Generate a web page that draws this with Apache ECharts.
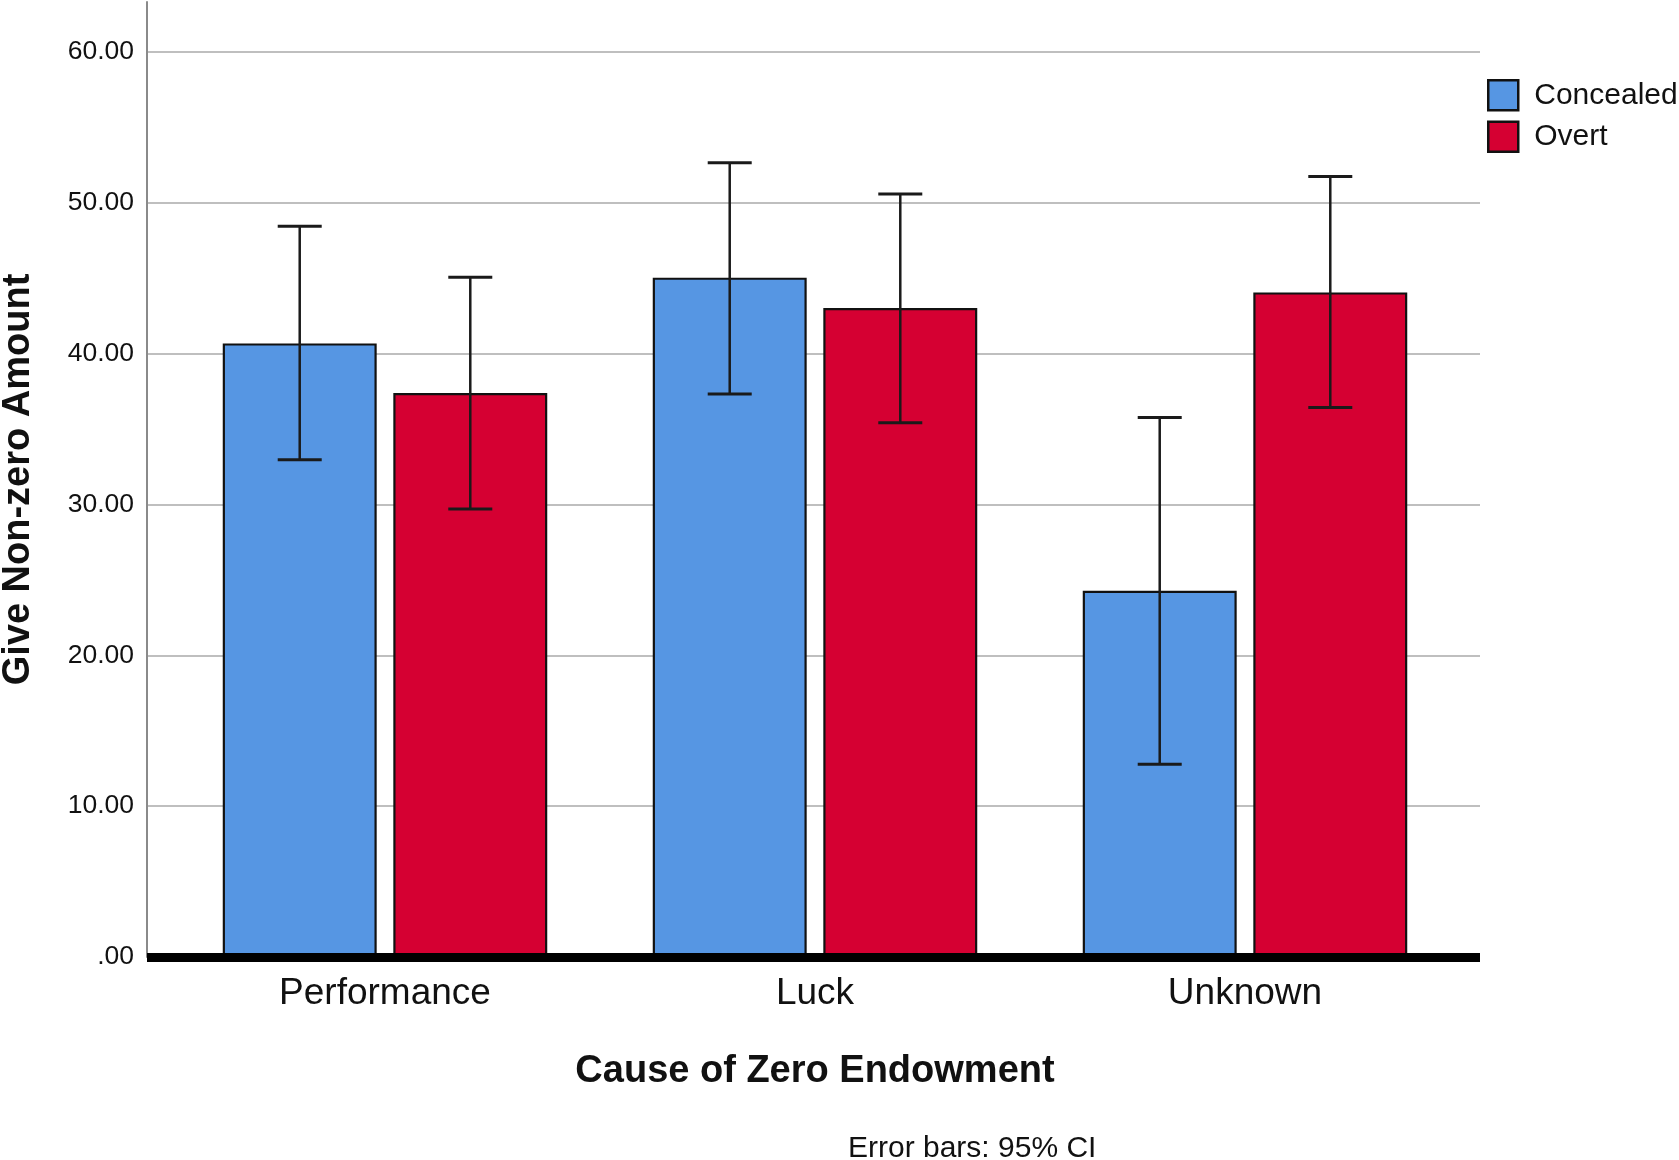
<!DOCTYPE html>
<html>
<head>
<meta charset="utf-8">
<script src="https://cdn.jsdelivr.net/npm/echarts@6/dist/echarts.min.js"></script>
<style>
html,body{margin:0;padding:0;background:#fff;}
#chart{width:1679px;height:1160px;}
</style>
</head>
<body>
<div id="chart"></div>
<script>
// ---- data ----
const categories = ['Performance', 'Luck', 'Unknown'];
const seriesNames = ['Concealed', 'Overt'];
const concealedMean = [40.67, 45.03, 24.27];
const overtMean = [37.38, 43.02, 44.05];
const concealedLow = [32.96, 37.31, 12.78];
const concealedHigh = [48.43, 52.65, 35.76];
const overtLow = [29.69, 35.41, 36.43];
const overtHigh = [45.05, 50.57, 51.74];
const yTicks = [0, 10, 20, 30, 40, 50, 60];

const FONT = '"Liberation Sans", Arial, sans-serif';
const BAR_PCT = 0.358;   // bar width as fraction of band
const GAP_PCT = 0.108;   // gap as fraction of bar width
const colors = ['#5696E3', '#D50032'];
const Y_MAX = 63.3;

function errorSeries(idx, low, high) {
  return {
    type: 'custom',
    name: seriesNames[idx] + ' CI',
    xAxisIndex: 1,
    yAxisIndex: 1,
    z: 5,
    silent: true,
    data: categories.map((c, i) => [i, low[i], high[i]]),
    renderItem: function (params, api) {
      const cat = api.value(0);
      const band = api.size([1, 0])[0];
      const bw = band * BAR_PCT;
      const gap = bw * GAP_PCT;
      const off = (bw + gap) / 2 * (idx === 0 ? -1 : 1);
      const pLow = api.coord([cat, api.value(1)]);
      const pHigh = api.coord([cat, api.value(2)]);
      const x = pLow[0] + off;
      const half = 22;
      const st = { stroke: '#1a1a1a', lineWidth: 2.5 };
      return {
        type: 'group',
        children: [
          { type: 'line', shape: { x1: x, y1: pLow[1], x2: x, y2: pHigh[1] }, style: st },
          { type: 'line', shape: { x1: x - half, y1: pLow[1], x2: x + half, y2: pLow[1] }, style: { stroke: '#1a1a1a', lineWidth: 3 } },
          { type: 'line', shape: { x1: x - half, y1: pHigh[1], x2: x + half, y2: pHigh[1] }, style: { stroke: '#1a1a1a', lineWidth: 3 } }
        ]
      };
    }
  };
}

const chart = echarts.init(document.getElementById('chart'), null, { renderer: 'canvas' });
chart.setOption({
  animation: false,
  backgroundColor: '#fff',
  textStyle: { fontFamily: FONT },
  grid: [
    { left: 147, right: 199, top: 2, bottom: 203, containLabel: false, outerBoundsMode: 'none' },
    { left: 170, right: 219, top: 2, bottom: 203, containLabel: false, outerBoundsMode: 'none' }
  ],
  legend: {
    orient: 'vertical',
    left: 1482,
    top: 74,
    itemWidth: 30,
    itemHeight: 30,
    itemGap: 9,
    icon: 'rect',
    data: seriesNames,
    itemStyle: { borderColor: '#111', borderWidth: 2.5 },
    textStyle: { fontSize: 30, color: '#111', fontFamily: FONT, padding: [0, 0, 0, 11] }
  },
  xAxis: [
    {
      gridIndex: 0, type: 'value', min: 0, max: 1, z: 10,
      axisLine: { show: true, onZero: false, lineStyle: { color: '#000', width: 9, cap: 'butt' } },
      axisTick: { show: false }, axisLabel: { show: false }, splitLine: { show: false }
    },
    {
      gridIndex: 1, type: 'category', data: categories,
      name: 'Cause of Zero Endowment', nameLocation: 'middle', nameGap: 96,
      nameTextStyle: { fontSize: 38, fontWeight: 'bold', color: '#111', fontFamily: FONT },
      axisLine: { show: false }, axisTick: { show: false },
      axisLabel: { fontSize: 37, color: '#111', margin: 18, fontFamily: FONT }
    }
  ],
  yAxis: [
    {
      gridIndex: 0, type: 'value', min: 0, max: Y_MAX, interval: 10,
      name: 'Give Non-zero Amount', nameLocation: 'middle', nameGap: 109, nameRotate: 90,
      nameTextStyle: { fontSize: 38, fontWeight: 'bold', color: '#111', fontFamily: FONT },
      axisLine: { show: true, lineStyle: { color: '#8a8a8a', width: 2 } },
      axisTick: { show: false },
      axisLabel: {
        fontSize: 26.5, color: '#111', margin: 13, showMaxLabel: false, fontFamily: FONT,
        padding: [6, 0, 0, 0],
        formatter: function (v) { return yTicks.indexOf(v) < 0 ? '' : (v === 0 ? '.00' : v.toFixed(2)); }
      },
      splitLine: { show: true, showMinLine: false, showMaxLine: false, lineStyle: { color: '#bfbfbf', width: 2 } }
    },
    {
      gridIndex: 1, type: 'value', min: 0, max: Y_MAX, interval: 10, show: false,
      splitLine: { show: false }
    }
  ],
  series: [
    {
      type: 'bar', name: seriesNames[0], xAxisIndex: 1, yAxisIndex: 1,
      data: concealedMean, barWidth: (BAR_PCT * 100) + '%', barGap: (GAP_PCT * 100) + '%',
      itemStyle: { color: colors[0], borderColor: '#111', borderWidth: 2.2 }
    },
    {
      type: 'bar', name: seriesNames[1], xAxisIndex: 1, yAxisIndex: 1,
      data: overtMean, barWidth: (BAR_PCT * 100) + '%', barGap: (GAP_PCT * 100) + '%',
      itemStyle: { color: colors[1], borderColor: '#111', borderWidth: 2.2 }
    },
    errorSeries(0, concealedLow, concealedHigh),
    errorSeries(1, overtLow, overtHigh)
  ],
  graphic: [
    {
      type: 'text', left: 848, top: 1134,
      style: { text: 'Error bars: 95% CI', fontSize: 30, fill: '#111', fontFamily: FONT }
    }
  ]
});
</script>
</body>
</html>
